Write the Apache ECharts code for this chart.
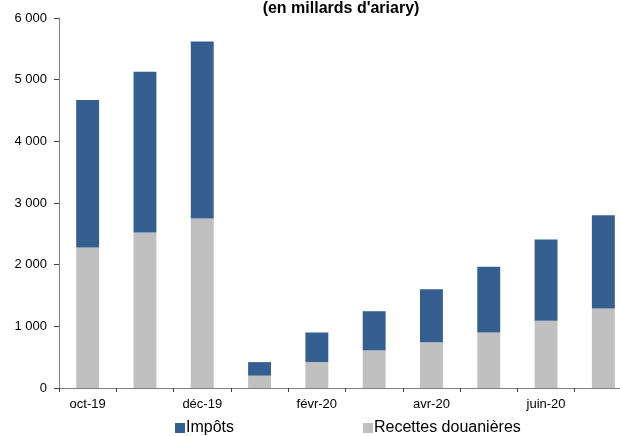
<!DOCTYPE html>
<html>
<head>
<meta charset="utf-8">
<script src="https://cdn.jsdelivr.net/npm/echarts@6/dist/echarts.min.js"></script>
<style>
  html, body { margin: 0; padding: 0; background: #fff; }
  #chart { width: 620px; height: 436px; }
</style>
</head>
<body>
<div id="chart"></div>
<script>
// Monthly revenue, in billions of ariary
const months = ['oct-19', 'nov-19', 'déc-19', 'janv-20', 'févr-20', 'mars-20', 'avr-20', 'mai-20', 'juin-20', 'juil-20'];
const douanes = [2280, 2520, 2750, 200, 420, 610, 740, 900, 1090, 1290];
const impots = [2390, 2610, 2870, 220, 480, 635, 860, 1065, 1320, 1510];
const yTicks = [0, 1000, 2000, 3000, 4000, 5000, 6000];

const FONT = '"Liberation Sans", Arial, sans-serif';
const chart = echarts.init(document.getElementById('chart'), null, { renderer: 'canvas' });

chart.setOption({
  animation: false,
  textStyle: { fontFamily: FONT },
  title: {
    text: "(en millards d'ariary)",
    left: 336,
    textAlign: 'center',
    top: -4,
    textStyle: { fontFamily: FONT, fontSize: 16, fontWeight: 'bold', color: '#000' }
  },
  legend: {
    left: 175,
    top: 420,
    padding: 0,
    icon: 'rect',
    itemWidth: 10,
    itemHeight: 10,
    itemGap: 129,
    textStyle: { fontFamily: FONT, fontSize: 16, color: '#000', padding: [0, 0, 0, -4] },
    data: ['Impôts', 'Recettes douanières']
  },
  // plot area runs slightly past the right edge of the canvas
  grid: { left: 59, width: 573, top: 18, bottom: 48, containLabel: false, outerBoundsMode: 'none' },
  xAxis: {
    type: 'category',
    data: months,
    axisLine: { lineStyle: { color: '#808080', width: 1 } },
    axisTick: { show: true, interval: 0, length: 4, lineStyle: { color: '#404040' } },
    axisLabel: { interval: 1, margin: 10, fontSize: 13, color: '#000', fontFamily: FONT }
  },
  yAxis: {
    type: 'value',
    min: yTicks[0],
    max: yTicks[yTicks.length - 1],
    interval: 1000,
    splitLine: { show: false },
    axisLine: { show: true, lineStyle: { color: '#808080', width: 1 } },
    axisTick: { show: true, length: 5, lineStyle: { color: '#404040' } },
    axisLabel: {
      margin: 12,
      fontSize: 13,
      color: '#000',
      fontFamily: FONT,
      formatter: v => String(v).replace(/\B(?=(\d{3})+(?!\d))/g, ' ')
    }
  },
  series: [
    {
      name: 'Recettes douanières',
      type: 'bar',
      stack: 'total',
      barWidth: '40%',
      itemStyle: { color: '#c0c0c0' },
      data: douanes
    },
    {
      name: 'Impôts',
      type: 'bar',
      stack: 'total',
      barWidth: '40%',
      itemStyle: { color: '#365f91' },
      data: impots
    }
  ]
});
</script>
</body>
</html>
